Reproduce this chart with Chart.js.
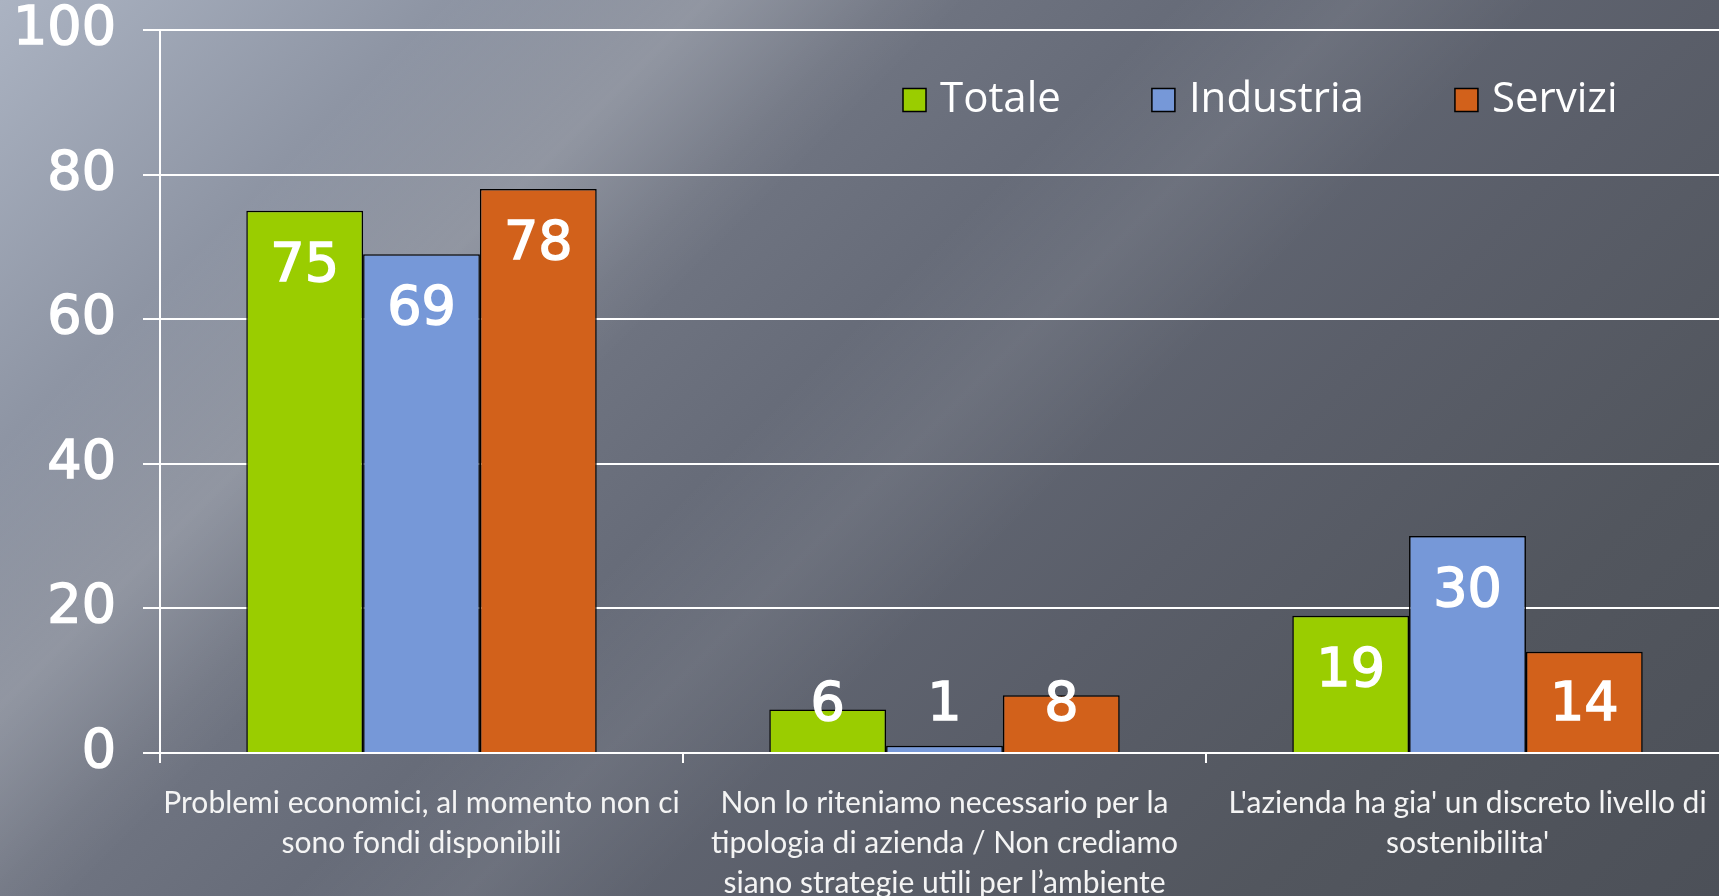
<!DOCTYPE html>
<html>
<head>
<meta charset="utf-8">
<script src="https://cdn.jsdelivr.net/npm/chart.js@4.4.1/dist/chart.umd.min.js"></script>
<style>
    html, body {
        margin: 0;
        padding: 0;
        width: 1719px;
        height: 896px;
        overflow: hidden;
    }
    body {
        background:
            linear-gradient(135deg, rgba(255,255,255,0) 17%, rgba(255,255,255,0.16) 27%, rgba(255,255,255,0) 37%, rgba(255,255,255,0) 45%, rgba(255,255,255,0.07) 52%, rgba(255,255,255,0) 59%),
            linear-gradient(135deg, #abb3c2 0%, #8c93a2 18%, #70758 2 34%, #636875 50%, #5a5e69 66%, #52565e 82%, #4c5058 100%);
        background:
            linear-gradient(135deg, rgba(255,255,255,0) 17%, rgba(255,255,255,0.16) 27%, rgba(255,255,255,0) 37%, rgba(255,255,255,0) 45%, rgba(255,255,255,0.07) 52%, rgba(255,255,255,0) 59%),
            linear-gradient(135deg, #abb3c2 0%, #8c93a2 18%, #707582 34%, #636875 50%, #5a5e69 66%, #52565e 82%, #4c5058 100%);
    }
    /* plot runs a few px past the right edge, as in the slide */
    #wrap {
        position: relative;
        width: 1729px;
        height: 896px;
    }
</style>
</head>
<body>
<div id="wrap"><canvas id="barChart"></canvas></div>
<script>
// chart data
const categories = [
    ["Problemi economici, al momento non ci", "sono fondi disponibili"],
    ["Non lo riteniamo necessario per la", "tipologia di azienda / Non crediamo", "siano strategie utili per l\u2019ambiente"],
    ["L'azienda ha gia' un discreto livello di", "sostenibilita'"]
];
const seriesNames = ["Totale", "Industria", "Servizi"];
const totale = [75, 6, 19];
const industria = [69, 1, 30];
const servizi = [78, 8, 14];
const yTicks = [0, 20, 40, 60, 80, 100];

const seriesColors = ["#9acd00", "#7698d8", "#d2611b"];

/**
 * Value labels inside the top of each bar
 */
const valueLabels = {
    id: "valueLabels",
    afterDatasetsDraw(chart) {
        const ctx = chart.ctx;
        const zeroY = chart.scales.y.getPixelForValue(0);
        ctx.save();
        ctx.font = "54px 'DejaVu Sans'";
        ctx.fillStyle = "#ffffff";
        ctx.strokeStyle = "#ffffff";
        ctx.lineWidth = 1.5;
        ctx.textAlign = "center";
        ctx.textBaseline = "middle";
        chart.data.datasets.forEach((ds, i) => {
            chart.getDatasetMeta(i).data.forEach((bar, j) => {
                let y = Math.min(bar.y + 56, zeroY - 47);
                ctx.fillText(String(ds.data[j]), bar.x, y);
                ctx.strokeText(String(ds.data[j]), bar.x, y);
            });
        });
        ctx.restore();
    }
};

/**
 * Legend drawn inside the plot area, top right
 */
const insideLegend = {
    id: "insideLegend",
    afterDraw(chart) {
        const ctx = chart.ctx;
        ctx.save();
        ctx.font = "42px 'Open Sans'";
        ctx.textBaseline = "middle";
        let x = 903;
        const cy = 100;
        chart.data.datasets.forEach(ds => {
            ctx.fillStyle = ds.backgroundColor;
            ctx.fillRect(x, cy - 11.5, 23, 23);
            ctx.lineWidth = 1.5;
            ctx.strokeStyle = "#000";
            ctx.strokeRect(x, cy - 11.5, 23, 23);
            ctx.fillStyle = "#ffffff";
            ctx.fillText(ds.label, x + 37, cy);
            x += 37 + ctx.measureText(ds.label).width + 91;
        });
        ctx.restore();
    }
};

function renderChart() {
    const ctx = document.getElementById("barChart").getContext("2d");
    const values = [totale, industria, servizi];
    new Chart(ctx, {
        type: "bar",
        data: {
            labels: categories,
            datasets: seriesNames.map((name, i) => ({
                label: name,
                data: values[i],
                backgroundColor: seriesColors[i],
                borderColor: "#000000",
                borderWidth: 1.5,
                barPercentage: 1,
                categoryPercentage: 0.67
            }))
        },
        options: {
            responsive: true,
            maintainAspectRatio: false,
            animation: false,
            layout: { padding: { top: 30, left: 0, right: 0, bottom: 0 } },
            plugins: {
                legend: { display: false },
                tooltip: { enabled: false }
            },
            scales: {
                x: {
                    afterFit: scale => {
                        scale.height = 143;
                        scale.paddingLeft = 0;
                        scale.paddingRight = 0;
                    },
                    grid: {
                        drawOnChartArea: false,
                        drawTicks: true,
                        tickLength: 10,
                        color: "#ffffff",
                        lineWidth: 2,
                        offset: true
                    },
                    border: { color: "#ffffff", width: 2 },
                    ticks: {
                        color: "#f4f4f4",
                        padding: 21,
                        maxRotation: 0,
                        autoSkip: false,
                        font: { family: "Lato", size: 30, lineHeight: 1.32 }
                    }
                },
                y: {
                    min: 0,
                    max: 100,
                    afterFit: scale => {
                        scale.width = 160;
                        scale.paddingTop = 0;
                        scale.paddingBottom = 0;
                    },
                    afterBuildTicks: scale => { scale.ticks = yTicks.map(v => ({ value: v })); },
                    grid: {
                        color: "#ffffff",
                        lineWidth: 2,
                        tickLength: 17
                    },
                    border: { color: "#ffffff", width: 2 },
                    ticks: {
                        color: "#ffffff",
                        padding: 27,
                        textStrokeColor: "#ffffff",
                        textStrokeWidth: 1.5,
                        font: { family: "DejaVu Sans", size: 54, lineHeight: 0.1 }
                    }
                }
            }
        },
        plugins: [valueLabels, insideLegend]
    });
}

document.addEventListener("DOMContentLoaded", renderChart);
</script>
</body>
</html>
